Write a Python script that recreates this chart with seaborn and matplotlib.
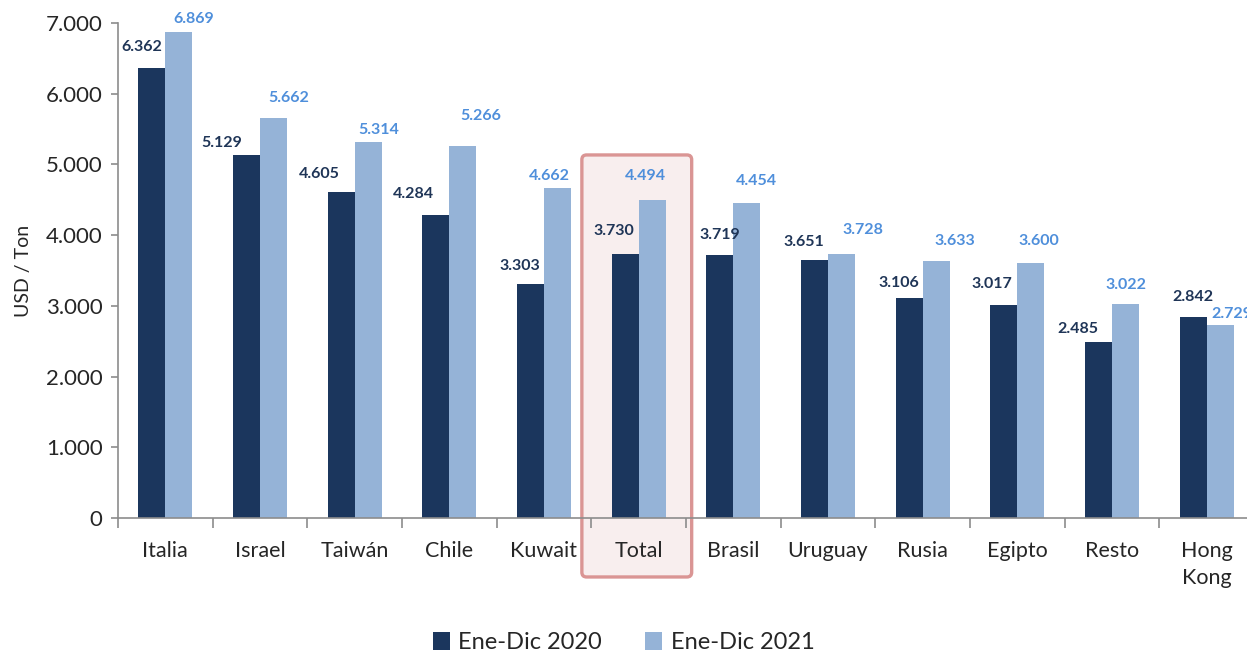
import pandas as pd
import matplotlib.pyplot as plt
import seaborn as sns
from matplotlib.patches import FancyBboxPatch
from matplotlib.ticker import FuncFormatter, MultipleLocator

# Data
paises = ['Italia', 'Israel', 'Taiwán', 'Chile', 'Kuwait', 'Total',
          'Brasil', 'Uruguay', 'Rusia', 'Egipto', 'Resto', 'Hong\nKong']
valores_2020 = [6362, 5129, 4605, 4284, 3303, 3730, 3719, 3651, 3106, 3017, 2485, 2842]
valores_2021 = [6869, 5662, 5314, 5266, 4662, 4494, 4454, 3728, 3633, 3600, 3022, 2729]
periodos = ['Ene-Dic 2020', 'Ene-Dic 2021']

df = pd.DataFrame({
    'pais': paises * 2,
    'valor': valores_2020 + valores_2021,
    'periodo': [periodos[0]] * len(paises) + [periodos[1]] * len(paises),
})

dark = '#1B365D'
light = '#95B3D7'
dark_txt = '#1F3557'
light_txt = '#4F8FDB'

sns.set_style('white')
plt.rcParams['font.family'] = ['Lato', 'DejaVu Sans']

fig = plt.figure(figsize=(12.47, 6.56), dpi=100)
ax = fig.add_axes([118 / 1247, 138 / 656, 1136 / 1247, 495 / 656])

sns.barplot(data=df, x='pais', y='valor', hue='periodo', palette=[dark, light],
            width=0.57, saturation=1, linewidth=0, ax=ax, zorder=2)

ax.set_xlim(-0.5, 11.5)
ax.set_ylim(0, 7000)

# highlight box around "Total"
box = FancyBboxPatch((4.4, -834), 1.16, 5968,
                     boxstyle='round,pad=0,rounding_size=0.05',
                     mutation_aspect=1339,
                     facecolor='#F8EEEE', edgecolor='#DA9594', linewidth=2.4,
                     transform=ax.transData, clip_on=False, zorder=0.5)
ax.add_patch(box)

# label offsets in pixels (hand placed like in the original)
dark_dx = [-10, -25, -22, -22, -11, -11, 0, -11, -10, -12, -21, 0]
dark_dy = [21, 12, 18, 21, 18, 23, 20, 18, 15, 21, 13, 20]
light_dx = [15, 15, 11, 18, -8, -7, 10, 21, 19, 8, 0, 12]
light_dy = [13, 20, 12, 30, 12, 24, 22, 24, 20, 22, 19, 11]

for i, bar in enumerate(ax.containers[0]):
    ax.annotate(f'{valores_2020[i]:,}'.replace(',', '.'),
                (bar.get_x() + bar.get_width() / 2, bar.get_height()),
                xytext=(dark_dx[i], dark_dy[i]), textcoords='offset pixels',
                ha='center', va='center', fontsize=11.5, fontweight='bold',
                color=dark_txt, annotation_clip=False)
for i, bar in enumerate(ax.containers[1]):
    ax.annotate(f'{valores_2021[i]:,}'.replace(',', '.'),
                (bar.get_x() + bar.get_width() / 2, bar.get_height()),
                xytext=(light_dx[i], light_dy[i]), textcoords='offset pixels',
                ha='center', va='center', fontsize=11.5, fontweight='bold',
                color=light_txt, annotation_clip=False)

# axes styling
sns.despine(ax=ax, top=True, right=True)
for side in ['left', 'bottom']:
    ax.spines[side].set_color('#8C8C8C')
    ax.spines[side].set_linewidth(1.2)

ax.yaxis.set_major_locator(MultipleLocator(1000))
ax.yaxis.set_major_formatter(FuncFormatter(lambda v, p: f'{int(v):,}'.replace(',', '.')))
ax.tick_params(axis='y', which='major', left=True, length=5, width=1.2,
               color='#8C8C8C', labelsize=16, pad=6)
ax.xaxis.set_minor_locator(MultipleLocator(1, offset=0.5))
ax.tick_params(axis='x', which='major', bottom=False, labelsize=15.5, pad=13)
ax.tick_params(axis='x', which='minor', bottom=True, length=7, width=1.2,
               color='#8C8C8C')
for lbl in ax.get_xticklabels():
    lbl.set_va('top')
    lbl.set_linespacing(1.45)

ax.set_xlabel('')
ax.set_ylabel('USD / Ton', fontsize=14, labelpad=10)

ax.get_legend().remove()
handles, labels = ax.get_legend_handles_labels()
fig.legend(handles[:2], labels[:2], loc='center', bbox_to_anchor=(0.5, 0.02),
           ncol=2, frameon=False, fontsize=17, handlelength=0.75, handleheight=0.75,
           handletextpad=0.35, columnspacing=1.8)

plt.savefig('out.png', dpi=100)
